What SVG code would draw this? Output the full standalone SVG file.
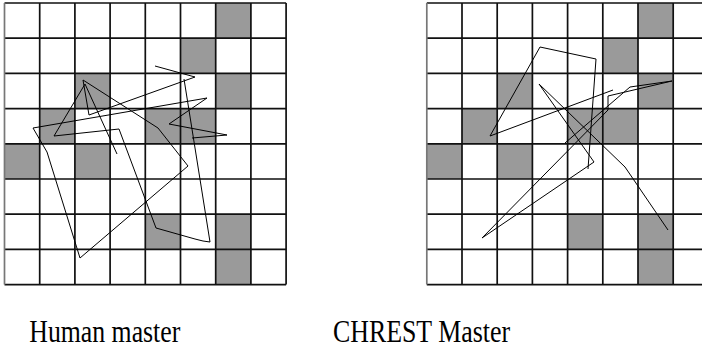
<svg xmlns="http://www.w3.org/2000/svg" width="702" height="362" viewBox="0 0 702 362">
<defs>
<style>
.sq{fill:#9a9a9a}
.gl{stroke:#111;stroke-width:1.7;fill:none}
.mv{stroke:#000;stroke-width:1;fill:none;stroke-linejoin:miter}
.lbl{font-family:"Liberation Serif","Times New Roman",serif;font-size:32px;fill:#000}
</style>
<g id="board">
<rect x="0" y="0" width="281.6" height="281.6" fill="#fff"/>
<rect class="sq" x="211.2" y="0" width="35.2" height="35.2"/>
<rect class="sq" x="176" y="35.2" width="35.2" height="35.2"/>
<rect class="sq" x="70.4" y="70.4" width="35.2" height="35.2"/>
<rect class="sq" x="211.2" y="70.4" width="35.2" height="35.2"/>
<rect class="sq" x="35.2" y="105.6" width="35.2" height="35.2"/>
<rect class="sq" x="140.8" y="105.6" width="35.2" height="35.2"/>
<rect class="sq" x="176" y="105.6" width="35.2" height="35.2"/>
<rect class="sq" x="0" y="140.8" width="35.2" height="35.2"/>
<rect class="sq" x="70.4" y="140.8" width="35.2" height="35.2"/>
<rect class="sq" x="140.8" y="211.2" width="35.2" height="35.2"/>
<rect class="sq" x="211.2" y="211.2" width="35.2" height="35.2"/>
<rect class="sq" x="211.2" y="246.4" width="35.2" height="35.2"/>
<path class="gl" d="M0 0H281.6M0 35.2H281.6M0 70.4H281.6M0 105.6H281.6M0 140.8H281.6M0 176H281.6M0 211.2H281.6M0 246.4H281.6M0 281.6H281.6M35.2 0V281.6M70.4 0V281.6M105.6 0V281.6M140.8 0V281.6M176 0V281.6M211.2 0V281.6M246.4 0V281.6M281.6 0V281.6"/>
<path d="M0 0V281.6" stroke="#777" stroke-width="1.7"/>
</g>
</defs>
<g id="human-master">
<use href="#board" x="4.5" y="3"/>
<g id="human-moves">
<polyline class="mv" points="155,66 195,77 89,115 83,80 158,128 188,166 80,258 47,152 33,128 207,98 169,124 227,135 192,138"/>
<polyline class="mv" points="117,154 85,84 54,136 119,129 156,228 195,239 203,241 210,242 184,79"/>
</g>
</g>
<g id="chrest-master">
<use href="#board" x="426.8" y="3"/>
<g id="chrest-moves">
<polyline class="mv" points="613,90 490,136 540,47 596,59 588,169"/>
<polyline class="mv" points="565,143 630,87 672,81 608,96 608,110 482,238 594,162 539,84 625,167 668,230"/>
</g>
</g>
<g id="labels">
<text class="lbl" x="29.3" y="342" textLength="151" lengthAdjust="spacingAndGlyphs">Human master</text>
<text class="lbl" x="333" y="342" textLength="177" lengthAdjust="spacingAndGlyphs">CHREST Master</text>
</g>
</svg>
